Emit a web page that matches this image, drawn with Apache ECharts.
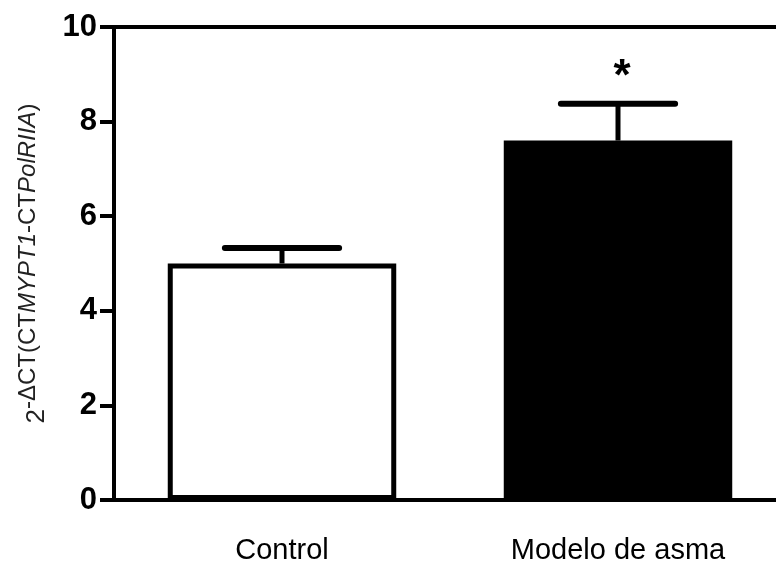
<!DOCTYPE html>
<html>
<head>
<meta charset="utf-8">
<script src="https://cdn.jsdelivr.net/npm/echarts@6/dist/echarts.min.js"></script>
<style>html,body{margin:0;padding:0;background:#fff}#c{width:776px;height:571px}</style>
</head>
<body>
<div id="c"></div>
<script>
var categories = ['Control', 'Modelo de asma'];
var means = [5.0, 7.6];
var upper = [5.33, 8.38];
var significance = ['', '*'];
var yTicks = [0, 2, 4, 6, 8, 10];

var chart = echarts.init(document.getElementById('c'));
var FONT = '"Liberation Sans", Arial, sans-serif';

var barData = means.map(function (v, i) {
  return {
    value: v,
    itemStyle: i === 0
      ? { color: '#fff', borderColor: '#000', borderWidth: 5 }
      : { color: '#000', borderColor: '#000', borderWidth: 2 }
  };
});
var errData = means.map(function (v, i) { return [i, v, upper[i]]; });

chart.setOption({
  animation: false,
  grid: { left: 114, width: 672, top: 27, bottom: 71, outerBoundsMode: 'none', containLabel: false },
  xAxis: [{
    type: 'category',
    data: categories,
    axisLine: { lineStyle: { color: '#000', width: 4 } },
    axisTick: { alignWithLabel: true, length: 15, lineStyle: { color: '#000', width: 4 } },
    axisLabel: { color: '#000', fontSize: 29, fontFamily: FONT, margin: 36 }
  }, {
    type: 'category',
    position: 'top',
    data: categories,
    axisLine: { lineStyle: { color: '#000', width: 4 } },
    axisTick: { show: false },
    axisLabel: { show: false }
  }],
  yAxis: {
    type: 'value',
    min: 0, max: 10, interval: 2,
    axisLine: { show: true, lineStyle: { color: '#000', width: 4 } },
    axisTick: { show: true, length: 14, lineStyle: { color: '#000', width: 4 } },
    splitLine: { show: false },
    axisLabel: {
      color: '#000', fontSize: 31, fontWeight: 'bold', fontFamily: FONT, margin: 17,
      formatter: function (v) { return yTicks.indexOf(v) >= 0 ? String(v) : ''; }
    },
    name: '{b|2}{s|-ΔCT(CT}{i|MYPT1}{s|-CT}{i|PolRIIA}{s|)}',
    nameLocation: 'middle',
    nameRotate: 90,
    nameGap: 64,
    nameTextStyle: {
      rich: {
        b: { fontSize: 26, fontFamily: FONT, color: '#222', verticalAlign: 'bottom', lineHeight: 34 },
        s: { fontSize: 24, fontFamily: FONT, color: '#222', verticalAlign: 'top', lineHeight: 34 },
        i: { fontSize: 24, fontFamily: FONT, fontStyle: 'italic', color: '#222', verticalAlign: 'top', lineHeight: 34 }
      }
    }
  },
  series: [{
    type: 'bar',
    data: barData,
    barWidth: '68%',
    z: 2
  }, {
    type: 'custom',
    data: errData,
    z: 3,
    renderItem: function (params, api) {
      var i = api.value(0);
      var top = api.coord([i, api.value(1)]);
      var cap = api.coord([i, api.value(2)]);
      var half = api.size([1, 0])[0] * 0.17;
      var children = [{
        type: 'line',
        shape: { x1: top[0], y1: top[1], x2: cap[0], y2: cap[1] },
        style: { stroke: '#000', lineWidth: 5 }
      }, {
        type: 'line',
        shape: { x1: cap[0] - half, y1: cap[1], x2: cap[0] + half, y2: cap[1] },
        style: { stroke: '#000', lineWidth: 6, lineCap: 'round' }
      }];
      if (significance[params.dataIndex]) {
        children.push({
          type: 'text',
          style: {
            text: significance[params.dataIndex],
            x: cap[0] + 4, y: cap[1] - 26,
            fill: '#000', font: 'bold 44px ' + FONT,
            align: 'center', verticalAlign: 'middle'
          }
        });
      }
      return { type: 'group', children: children };
    }
  }]
});
</script>
</body>
</html>
